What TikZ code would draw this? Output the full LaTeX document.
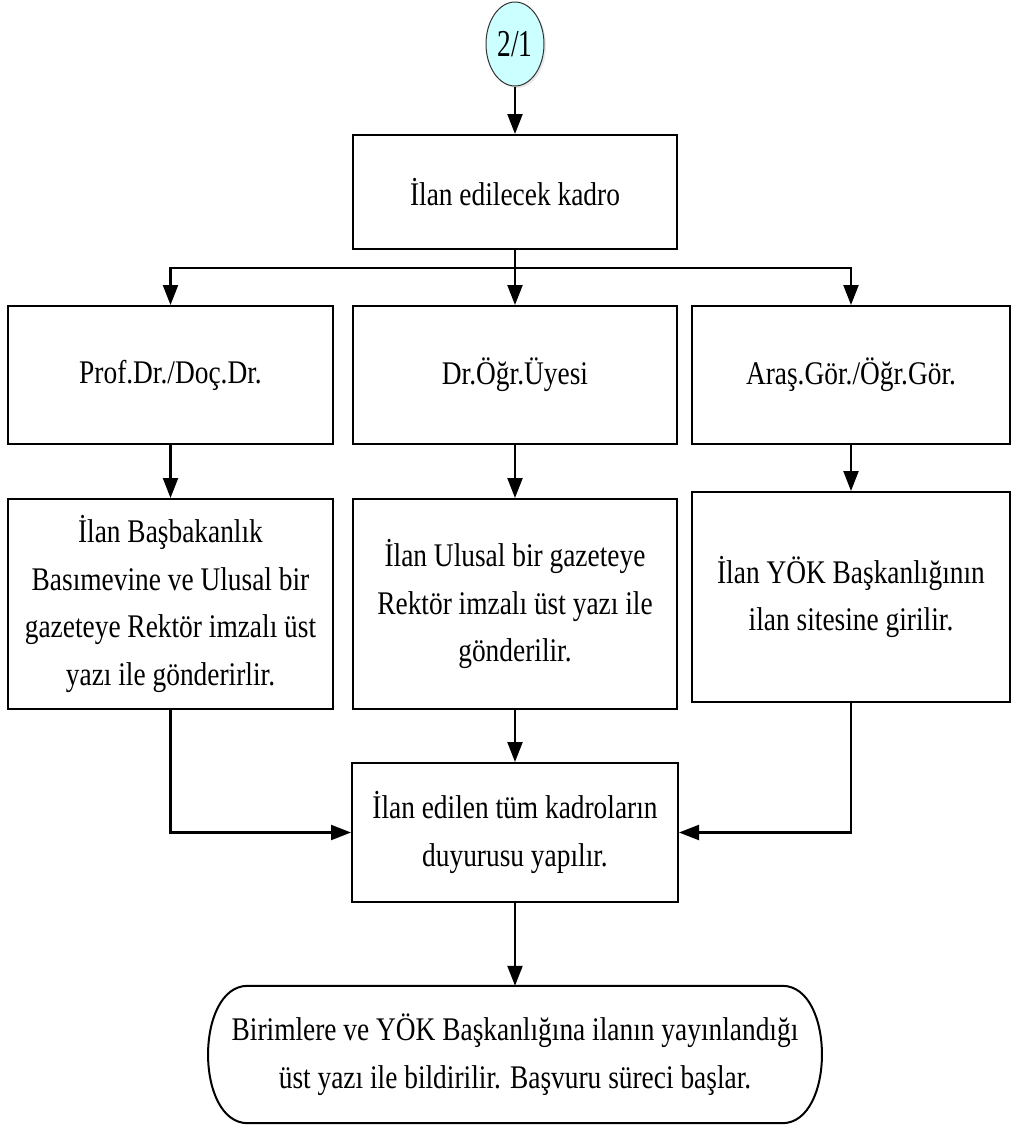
\documentclass[tikz,border=0pt]{standalone}
\usepackage{fontspec}
\setmainfont{Liberation Serif}[FakeStretch=0.83]
\newfontfamily\circfont{Liberation Serif}[FakeStretch=0.72]
\usetikzlibrary{arrows.meta,shapes.geometric,shadows}
\definecolor{circfill}{RGB}{204,255,255}
\tikzset{
  every picture/.style={x=1pt,y=-1pt},
  txt/.style={font=\fontsize{33}{47.5}\selectfont, align=center, inner sep=0pt},
  procbox/.style={txt, draw=black, line width=2pt, rectangle},
  conn/.style={line width=2.2pt, draw=black},
  arr/.style={conn, -{Triangle[length=20pt,width=15pt]}},
}
\begin{document}
\begin{tikzpicture}
\useasboundingbox (0,0) rectangle (1012,1128);
\node[ellipse, draw=black!80, line width=1pt, fill=circfill, minimum width=58pt, minimum height=84pt, inner sep=0pt,
      font=\circfont\fontsize{38}{40}\selectfont,
      drop shadow={opacity=0.18, shadow xshift=2pt, shadow yshift=-2pt}] (c21) at (515,44) {2/1};
\node[procbox, minimum width=324pt, minimum height=114pt] (k1) at (515,192) {İlan edilecek kadro};
\node[procbox, minimum width=325pt, minimum height=138pt] (r2a) at (170.5,375) {Prof.Dr./Doç.Dr.};
\node[procbox, minimum width=324pt, minimum height=138pt] (r2b) at (515,375) {Dr.Öğr.Üyesi};
\node[procbox, minimum width=318pt, minimum height=138pt] (r2c) at (851,375) {Araş.Gör./Öğr.Gör.};
\node[procbox, minimum width=325pt, minimum height=210pt] (r3a) at (170.5,604) {İlan Başbakanlık\\Basımevine ve Ulusal bir\\gazeteye Rektör imzalı üst\\yazı ile gönderirlir.};
\node[procbox, minimum width=324pt, minimum height=210pt] (r3b) at (515,604) {İlan Ulusal bir gazeteye\\Rektör imzalı üst yazı ile\\gönderilir.};
\node[procbox, minimum width=318pt, minimum height=210pt] (r3c) at (851,597) {İlan YÖK Başkanlığının\\ilan sitesine girilir.};
\node[procbox, minimum width=326pt, minimum height=139pt] (k4) at (515,832.5) {İlan edilen tüm kadroların\\duyurusu yapılır.};
\node[txt, minimum width=614pt, minimum height=137pt] (term) at (515,1054.5) {Birimlere ve YÖK Başkanlığına ilanın yayınlandığı\\üst yazı ile bildirilir. Başvuru süreci başlar.};
\draw[line width=2pt]
  ([xshift=40pt]term.north west) -- ([xshift=-40pt]term.north east)
  .. controls ([xshift=13pt]term.north east) and ([xshift=13pt]term.south east) .. ([xshift=-40pt]term.south east)
  -- ([xshift=40pt]term.south west)
  .. controls ([xshift=-13pt]term.south west) and ([xshift=-13pt]term.north west) .. ([xshift=40pt]term.north west) -- cycle;
\coordinate (j) at (515,268);
\draw[arr] (c21.south) -- (k1.north);
\draw[conn] (k1.south) -- (j);
\draw[arr] (j) -| (r2a.north);
\draw[arr] (j) -| (r2c.north);
\draw[arr] (j) -- (r2b.north);
\draw[arr] (r2a.south) -- (r3a.north);
\draw[arr] (r2b.south) -- (r3b.north);
\draw[arr] (r2c.south) -- (r3c.north);
\draw[arr] (r3a.south) |- (k4.west);
\draw[arr] (r3c.south) |- (k4.east);
\draw[arr] (r3b.south) -- (k4.north);
\draw[arr] (k4.south) -- (term.north);
\end{tikzpicture}
\end{document}
